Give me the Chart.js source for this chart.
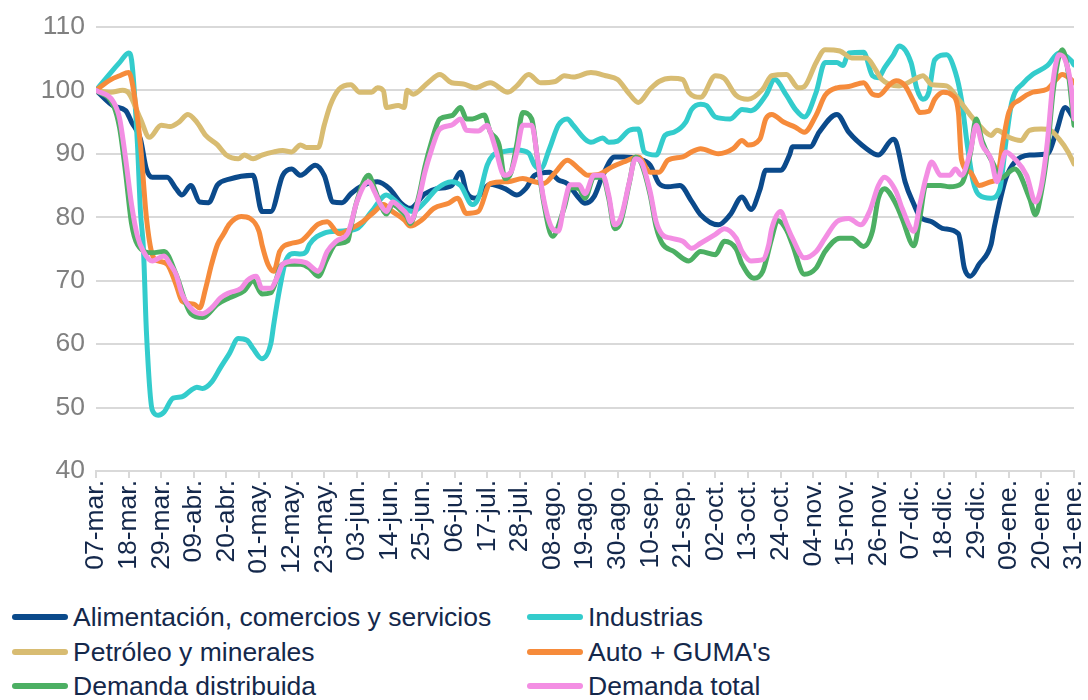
<!DOCTYPE html>
<html>
<head>
<meta charset="utf-8">
<style>
  body { margin: 0; background: #fff; }
  #wrap { position: relative; width: 1088px; height: 700px; overflow: hidden; font-family: "Liberation Sans", Arial, sans-serif; }
  #chart { position: absolute; left: 0; top: 0; }
  .leg { position: absolute; display: flex; align-items: center; height: 30px; font-size: 26.5px; color: #14284b; white-space: nowrap; }
  .leg i { display: inline-block; width: 56px; height: 6px; border-radius: 3px; margin-right: 5px; }
</style>
</head>
<body>
<div id="wrap">
  <canvas id="chart" width="1088" height="600"></canvas>
  <div id="legend"></div>
</div>
<script src="https://cdn.jsdelivr.net/npm/chart.js"></script>
<script>
// x = days since 07-mar, one tick every 11 days
const tickLabels = ['07-mar.','18-mar.','29-mar.','09-abr.','20-abr.','01-may.','12-may.','23-may.','03-jun.','14-jun.','25-jun.','06-jul.','17-jul.','28-jul.','08-ago.','19-ago.','30-ago.','10-sep.','21-sep.','02-oct.','13-oct.','24-oct.','04-nov.','15-nov.','26-nov.','07-dic.','18-dic.','29-dic.','09-ene.','20-ene.','31-ene.'];

const seriesNames = ['Alimentación, comercios y servicios', 'Industrias', 'Petróleo y minerales', "Auto + GUMA's", 'Demanda distribuida', 'Demanda total'];
const seriesColors = ['#0b4a8b', '#33cccc', '#d8bc72', '#f68b3b', '#4caf63', '#f38ee3'];

const alimDays = [0,6,10,12,15,17,19,24,27,29,32,35,38,41,45,53,56,59,63,66,69,74,77,80,83,86,90,95,99,103,106,111,115,120,123,125,128,133,138,142,145,148,153,156,159,163,165,168,171,175,178,183,187,190,193,197,201,204,210,214,218,221,224,226,231,234,235,241,244,250,254,260,264,269,270,273,276,278,282,286,291,293,295,298,302,303,307,310,315,321,324,327,330];
const alimVals = [100,97.5,96.8,95,92.3,87.6,86.3,86.3,84.5,83.5,85,82.4,82.3,85.1,86,86.6,80.9,80.9,86.6,87.6,86.6,88.2,86.6,82.4,82.3,83.7,85,85.6,84.5,82.2,81.4,83.7,84.5,85,87.1,84,83,85.2,84.5,83.5,84.5,86.6,87.1,85.9,85.3,83,82.2,83.2,86.6,89.5,89.5,89.2,88.2,85.3,84.8,85,82.5,80.4,78.8,80.4,83.2,81.2,84.3,87.4,87.4,89.8,91.1,91.1,93.4,96.2,93.4,90.8,89.8,92.3,91.8,85.6,82,80.1,79.3,78.2,77.4,72,70.7,72.6,75.7,78.2,86.1,88.7,89.8,90,93.4,97.3,95.5];

const indDays = [0,5,8,11,12,14,15,16,17,19,21,23,26,29,32,34,36,39,42,45,48,51,53,56,59,60,62,64,67,69,71,72,77,82,88,93,98,100,104,107,111,115,120,123,127,129,132,134,137,142,146,148,150,153,156,159,161,165,167,171,173,176,180,183,185,189,192,195,199,201,204,206,209,214,218,221,226,229,233,236,239,243,246,250,252,254,259,262,264,266,269,271,275,277,279,281,283,287,290,292,294,296,298,302,305,307,309,313,316,321,325,329,330];
const indVals = [100,102.8,104.4,105.9,104.8,91.4,80.9,75.1,62.1,49.6,48.8,49.3,51.5,51.7,52.7,53.2,53,54,56.3,58.5,60.9,60.6,59.3,57.7,60.1,63.2,68.8,73.1,74.3,74.2,74.6,75.7,77.5,77.8,78.2,80.9,83.5,83,81.4,80.9,82.4,84.5,85.6,85,82,83,88.2,89.8,90.3,90.6,90.1,88.2,87.6,90.8,94.5,95.5,94.5,92.3,91.8,92.5,91.8,92,93.7,93.9,90.3,89.8,92.9,93.4,95,97,97.8,97.6,95.8,95.5,97,96.8,99.2,101.7,99.2,97,95.8,99.7,104.4,104.4,103.9,105.9,106,102.3,102,103.5,105.5,107,104.4,100.2,98.6,99.7,104.8,105.6,102.8,98.6,91.4,85.6,83.5,83,84.5,91.8,98.1,101.2,102.5,103.9,105.9,104.7,104];

const petDays = [0,5,9,11,15,18,22,25,28,31,34,37,41,44,48,50,53,56,60,63,66,69,71,75,77,79,82,86,89,93,95,97,98,102,104,105,107,112,116,120,124,128,133,139,142,146,150,155,158,161,167,172,176,180,183,187,190,194,198,200,204,209,212,216,220,225,228,233,237,239,243,246,251,255,260,263,265,271,276,279,282,287,291,295,298,302,304,308,312,315,319,322,325,328,330];
const petVals = [100,99.7,100,99.6,95.5,92.6,94.5,94.3,95,96.2,95,92.9,91.4,89.8,89.2,89.8,89.2,89.8,90.3,90.5,90.3,91.4,91,91,94.5,97.6,100.2,100.9,99.7,99.7,100.4,99.9,97.3,97.6,97.3,100,99.4,101.2,102.5,101.2,101,100.4,101.2,99.7,100.7,102.5,101.2,101.4,102.3,102.1,102.8,102.3,101.7,99.4,98.1,100.2,101.4,101.9,101.7,99.7,98.9,102.3,101.9,99.2,98.6,100.2,102.3,102.5,100.4,100.6,104.4,106.4,106.2,105.1,105.1,103.3,101.8,100.7,101.7,102.3,100.9,100.7,98.6,96.1,94.5,92.9,93.7,92.6,92.1,93.7,93.9,93.7,92.3,90.3,88.4];

const autoDays = [0,5,8,11,12,15,17,19,21,24,27,29,33,35,37,39,41,43,45,49,52,55,56,58,60,62,66,69,75,78,82,86,90,94,97,100,104,106,110,114,119,122,125,129,133,139,144,148,151,155,159,163,166,170,174,178,183,187,190,193,198,201,204,210,215,218,220,224,226,228,232,236,239,243,246,250,254,259,262,264,268,270,273,276,278,281,283,286,289,291,292,295,298,302,304,306,308,312,316,321,324,326,329,330];
const autoVals = [100,101.7,102.3,102.8,101.7,91.4,80,74.1,73.1,72.6,69.4,66.8,66.3,65.7,68.8,72.6,75.7,77.3,78.9,80.1,79.8,77.8,75.7,72.6,71.5,74.6,75.9,76.2,78.9,79.3,77.4,78.2,79.3,80.9,82,80.9,79.6,78.6,79.6,81.4,82.2,83,80.6,80.9,85.3,85.6,86.1,85.6,85.3,87.1,89,87.6,86.6,86.8,87.9,88.7,89.5,87.1,87.1,89,89.5,90.3,90.8,90,90.8,92.1,91.4,92.3,95.5,96.2,95,94.2,93.4,96.1,99.2,100.4,100.6,101.2,99.4,99.2,101,101.5,100.7,98.1,96.5,96.7,98.6,99.7,99.2,96.5,89.2,87.1,85,85.6,86.1,91.8,96.5,98.6,99.7,100.2,101.7,102.5,101.7,101.2];

const distDays = [0,6,8,10,12,14,19,23,27,32,36,41,45,50,53,56,59,63,69,72,75,78,81,85,86,88,92,94,96,98,100,103,105,106,109,111,113,116,120,123,125,127,131,133,136,138,140,142,144,147,149,151,154,158,160,163,165,168,171,173,175,177,180,182,184,187,189,191,195,200,204,209,212,216,218,222,225,228,230,233,235,239,243,246,251,255,259,262,264,266,270,272,276,278,280,285,288,292,295,297,299,303,305,310,315,317,319,321,323,326,328,330];
const distVals = [100,97.5,94,87,79,75.7,74.4,74.6,71,64.8,64.2,66.3,67.3,68.4,70,67.9,68.1,72.6,72.6,72,70.7,73.5,75.8,76.3,78.5,82.5,86.6,84.5,82,80.5,82,81,80,79,83.5,88,91.5,95.5,96,97.3,95.5,95.5,96.1,93.5,91.4,86.1,87,91.5,96.5,95.5,89,82.5,77,81.5,84.7,84.5,83,86.3,86.3,83,78.2,79.2,85.5,89.5,88.5,83.5,78.5,75.9,74.6,73.1,74.6,74.1,76.2,75,72.6,70.4,71.5,76.7,79.5,78,75.7,71,72,74.6,76.7,76.7,75.4,77.8,83,84.5,82,79.8,75.5,80,85,85,84.8,85.3,90,95.5,92,88.2,86.1,87.6,83,80.4,84,90.3,100,106.4,103,94.5];

const totalDays = [0,6,8,10,12,14,16,19,23,25,27,29,33,36,39,42,45,49,51,54,56,59,61,63,67,71,75,78,81,85,86,88,92,94,96,98,100,103,105,106,109,111,113,116,120,123,125,129,132,133,135,137,138,140,142,144,147,149,151,154,156,158,160,163,165,168,171,173,175,177,180,182,184,187,189,191,194,198,201,204,209,212,216,218,221,225,227,228,231,233,235,239,243,246,250,254,258,261,264,266,270,272,276,278,280,282,285,288,290,292,295,297,299,302,304,307,310,314,317,319,321,323,325,327,329,330];
const totalVals = [100,98.1,95.5,89.2,82,77,74.6,73.1,73.9,72.6,71,67.9,65.2,64.8,65.7,67.3,68.1,68.8,70,70.7,68.8,68.8,70.4,72.6,73.1,72.8,71.5,74.6,76.2,77.5,78.9,82.4,85.6,84,82,80.9,82.4,81.4,80.4,79.3,83,87.1,90.3,93.9,94.5,95.5,93.7,93.6,94.5,93.5,90.5,87.1,86.6,87.1,90.3,94.5,94.5,89.2,83,78.2,77.8,82,85.1,85.1,83.7,86.6,86.6,83.5,78.8,79.8,85.6,89.2,88.7,84,79.3,77.3,76.7,76.2,75.1,75.9,77.3,78.2,76.7,74.6,73.1,73.3,75.7,78.2,80.9,78.8,76.7,73.6,74.6,76.7,79.3,79.8,78.8,80.9,85,86.3,84,81.4,77.8,82,86.1,88.7,86.6,86.6,87.6,86.6,90.3,94.5,91.4,89.2,85.6,90.3,89.2,86.6,82.4,85,91.8,101.7,105.6,104.8,100.7,95.5];

const seriesDays = [alimDays, indDays, petDays, autoDays, distDays, totalDays];
const seriesVals = [alimVals, indVals, petVals, autoVals, distVals, totalVals];

const datasets = seriesNames.map((name, i) => ({
    label: name,
    data: seriesDays[i].map((d, j) => ({ x: d, y: seriesVals[i][j] })),
    borderColor: seriesColors[i],
    backgroundColor: seriesColors[i],
    order: seriesNames.length - i   // later series drawn on top
}));

// legend: two columns, three rows
const legend = document.getElementById('legend');
seriesNames.forEach((name, i) => {
    const item = document.createElement('div');
    item.className = 'leg';
    item.style.left = (i % 2 === 0 ? 12 : 527) + 'px';
    item.style.top = [602, 637, 671][Math.floor(i / 2)] + 'px';
    item.innerHTML = '<i style="background:' + seriesColors[i] + '"></i>';
    item.appendChild(document.createTextNode(name));
    legend.appendChild(item);
});

Chart.defaults.font.family = '"Liberation Sans", Arial, sans-serif';
Chart.defaults.font.size = 26.5;

const ctx = document.getElementById('chart').getContext('2d');
new Chart(ctx, {
    type: 'line',
    data: { datasets: datasets },
    options: {
        responsive: false,
        animation: false,
        layout: { padding: { top: 24, right: 14, left: 0, bottom: 0 } },
        plugins: { legend: { display: false }, tooltip: { enabled: false } },
        elements: {
            point: { radius: 0 },
            line: { borderWidth: 5, cubicInterpolationMode: 'monotone', borderCapStyle: 'round', borderJoinStyle: 'round' }
        },
        scales: {
            x: {
                type: 'linear',
                min: 0,
                max: 330,
                afterFit: function(scale) {
                    scale.height = 129;
                    scale.paddingLeft = 0;
                    scale.paddingRight = 0;
                },
                afterBuildTicks: function(scale) {
                    scale.ticks = tickLabels.map((_, i) => ({ value: i * 11 }));
                },
                grid: { drawOnChartArea: false, drawTicks: true, tickLength: 7, color: '#d9d9d9', lineWidth: 2 },
                border: { display: true, color: '#d9d9d9', width: 2 },
                ticks: {
                    autoSkip: false,
                    maxRotation: 90,
                    minRotation: 90,
                    padding: 2,
                    color: '#14284b',
                    callback: function(v) { return tickLabels[Math.round(v / 11)]; }
                }
            },
            y: {
                min: 40,
                max: 110,
                afterFit: function(scale) { scale.width = 96; },
                grid: { color: '#d9d9d9', lineWidth: 2, drawTicks: false },
                border: { display: false },
                ticks: { stepSize: 10, padding: 11, color: '#808080' }
            }
        }
    }
});
</script>
</body>
</html>
